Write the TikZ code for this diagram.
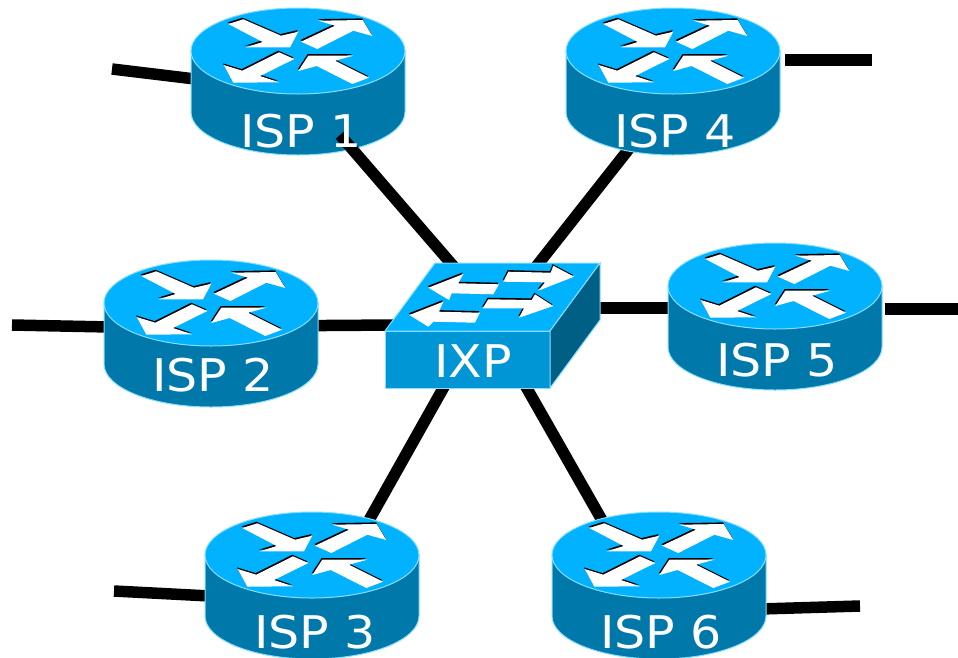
\documentclass[tikz,border=0pt]{standalone}
\usepackage{fontspec}
\setmainfont{DejaVu Sans}
\newfontfamily\labelfont[FakeStretch=1.09]{DejaVu Sans}
\definecolor{topblue}{RGB}{0,178,255}
\definecolor{sideblue}{RGB}{0,120,170}
\definecolor{frontblue}{RGB}{0,149,213}
\definecolor{darkblue}{RGB}{0,95,133}
\definecolor{rimblue}{RGB}{135,222,255}
\tikzset{
    link/.style={line width=11.5pt},
    devicelabel/.style={text=white, font=\labelfont\fontsize{45}{45}\selectfont, inner sep=0pt},
    rim/.style={draw=rimblue, line width=1pt},
    router/.pic={
        \def\rx{107}
        \def\ry{43}
        \def\rh{61}
        \path[rim, fill=sideblue] (-\rx,0) -- (-\rx,\rh) arc[start angle=180, end angle=360, x radius=\rx, y radius=-\ry] -- (\rx,0) -- cycle;
        \path[rim, fill=topblue] (0,0) ellipse[x radius=\rx, y radius=\ry];
        \foreach \c/\s in {black/{(-0.7,-1.6)}, white/{(0,0)}} {
            \fill[\c, shift=\s] (-69.7,-27) -- (-54.7,-31.7) -- (-17,-15.3) -- (0.3,-19.3) -- (-8,-3.7) -- (-52.3,-3.7) -- (-35.3,-9) -- cycle;
            \fill[\c, shift=\s] (3,-9.3) -- (37,-25.3) -- (20.3,-30.3) -- (64.7,-31) -- (74.3,-15) -- (55.3,-20.3) -- (19.3,-2) -- cycle;
            \fill[\c, shift=\s] (-3.7,8) -- (-19,1.3) -- (-55.7,19.7) -- (-74.3,14) -- (-64.7,31.7) -- (-19,31.3) -- (-38,25) -- cycle;
            \fill[\c, shift=\s] (71,26.7) -- (37,9.7) -- (55.3,4.7) -- (10.3,4.7) -- (0.3,20) -- (18.7,15) -- (54.3,33) -- cycle;
        }
    },
}
\begin{document}
\begin{tikzpicture}[x=1pt, y=-1pt]
    \useasboundingbox (0,0) rectangle (958,657);

    % router centres
    \coordinate (isp1) at (298,51);
    \coordinate (isp2) at (211,303);
    \coordinate (isp3) at (312,555);
    \coordinate (isp4) at (673,51);
    \coordinate (isp5) at (775,286);
    \coordinate (isp6) at (659,555);

    % ports on the switch
    \coordinate (ixp1) at (455,268);
    \coordinate (ixp2) at (395,325);
    \coordinate (ixp3) at (445,385);
    \coordinate (ixp4) at (535,268);
    \coordinate (ixp5) at (595,308);
    \coordinate (ixp6) at (525,385);

    % ports on the routers
    \coordinate (port1) at (340,135);
    \coordinate (port2) at (115,327);
    \coordinate (port3) at (368,522);
    \coordinate (port4) at (632,145);
    \coordinate (port5) at (670,308);
    \coordinate (port6) at (603,522);

    % free ends
    \coordinate (out1) at (112,69);
    \coordinate (out2) at (12,325);
    \coordinate (out3) at (114,591);
    \coordinate (out4) at (872,60);
    \coordinate (out5) at (958,309);
    \coordinate (out6) at (860,606);
    \coordinate (in1) at (195,79);
    \coordinate (in2) at (110,327);
    \coordinate (in3) at (210,596);
    \coordinate (in4) at (785,60);
    \coordinate (in5) at (885,309);
    \coordinate (in6) at (760,609);

    \draw[link] (port2) -- (ixp2);
    \draw[link] (port3) -- (ixp3);
    \draw[link] (port4) -- (ixp4);
    \draw[link] (port5) -- (ixp5);
    \draw[link] (port6) -- (ixp6);
    \foreach \i in {1,...,6} {
        \draw[link] (out\i) -- (in\i);
    }

    \foreach \i in {1,...,6} {
        \pic at (isp\i) {router};
    }

    % the link to ISP 1 lies on the router, under its label
    \draw[link] (ixp1) -- (port1);

    % switch
    \path[rim, fill=topblue] (435,263) -- (600,263) -- (550,331) -- (385,331) -- cycle;
    \path[rim, fill=frontblue] (385,331) rectangle (550,388);
    \path[rim, fill=darkblue] (600,263) -- (600,320) -- (550,388) -- (550,331) -- cycle;
    \foreach \c/\s in {black/{(-0.7,-1.6)}, white/{(0,0)}} {
        \fill[\c, shift=\s] (428.3,287.7) -- (463.3,274) -- (458.3,283.3) -- (499,284.3) -- (493.3,294.3) -- (451.7,293.3) -- (449,300) -- cycle;
        \fill[\c, shift=\s] (409.3,315) -- (443.3,301.7) -- (439,311.7) -- (480,312.7) -- (475,322.7) -- (433.3,321.7) -- (428.3,326.7) -- cycle;
        \fill[\c, shift=\s] (574,276.7) -- (553.3,265.7) -- (550.7,272.7) -- (508.3,271.7) -- (503.3,281.7) -- (545,282.3) -- (538.3,290.7) -- cycle;
        \fill[\c, shift=\s] (553.3,306) -- (535,294.3) -- (531.7,300) -- (488.3,299.3) -- (482.7,308.3) -- (524,308.3) -- (519,317.7) -- cycle;
    }

    \node[devicelabel] (lblisp1) at (301,131) {ISP 1};
    \node[devicelabel] (lblisp2) at (213,375) {ISP 2};
    \node[devicelabel] (lblisp3) at (315,632) {ISP 3};
    \node[devicelabel] (lblisp4) at (675,131) {ISP 4};
    \node[devicelabel] (lblisp5) at (777,360) {ISP 5};
    \node[devicelabel] (lblisp6) at (661,632) {ISP 6};
    \node[devicelabel] (lblixp) at (473,361) {IXP};
\end{tikzpicture}
\end{document}
